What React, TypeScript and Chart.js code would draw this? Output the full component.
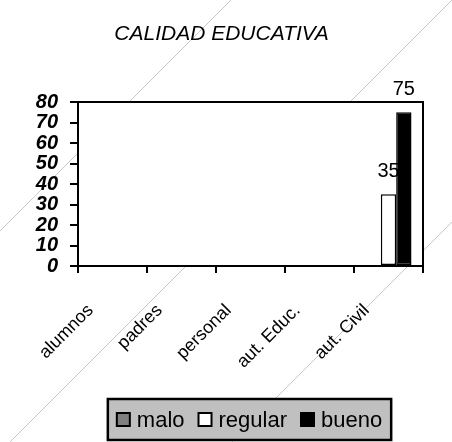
import React, { useEffect, useRef } from 'react';
import { Chart, registerables } from 'chart.js';

Chart.register(...registerables);

const chartTitle = 'CALIDAD EDUCATIVA';
const categories = ['alumnos', 'padres', 'personal', 'aut. Educ.', 'aut. Civil'];
const seriesNames = ['malo', 'regular', 'bueno'];
const maloValues: (number | null)[] = [null, null, null, null, null];
const regularValues: (number | null)[] = [null, null, null, null, 35];
const buenoValues: (number | null)[] = [null, null, null, null, 75];
const yMin = 0;
const yMax = 80;
const yStep = 10;

const FONT = "'Liberation Sans', Arial, sans-serif";
const seriesColors = ['#808080', '#ffffff', '#000000'];

const backgroundPlugin = {
  id: 'bgDecor',
  beforeDraw(chart: any) {
    const { ctx, width, height, chartArea } = chart;
    ctx.save();
    ctx.fillStyle = '#ffffff';
    ctx.fillRect(0, 0, width, height);
    ctx.strokeStyle = '#c8c8c8';
    ctx.lineWidth = 1;
    [231, 452, 674].forEach((s) => {
      ctx.beginPath();
      ctx.moveTo(s, 0);
      ctx.lineTo(s - height, height);
      ctx.stroke();
    });
    ctx.fillStyle = '#ffffff';
    ctx.fillRect(chartArea.left, chartArea.top, chartArea.right - chartArea.left, chartArea.bottom - chartArea.top);
    ctx.restore();
  },
};

const valueLabelPlugin = {
  id: 'valueLabels',
  beforeDatasetsDraw(chart: any) {
    const { ctx } = chart;
    ctx.save();
    ctx.font = `20px ${FONT}`;
    ctx.fillStyle = '#000';
    ctx.textAlign = 'center';
    ctx.textBaseline = 'alphabetic';
    chart.data.datasets.forEach((ds: any, i: number) => {
      const meta = chart.getDatasetMeta(i);
      meta.data.forEach((el: any, j: number) => {
        const v = ds.data[j];
        if (v === null || v === undefined) return;
        ctx.fillText(String(v), el.x, el.y - 17);
      });
    });
    ctx.restore();
  },
};

const frameAndLegendPlugin = {
  id: 'frameLegend',
  afterDraw(chart: any) {
    const { ctx, chartArea, height } = chart;
    ctx.save();
    ctx.strokeStyle = '#000';
    ctx.lineWidth = 2;
    ctx.strokeRect(chartArea.left, chartArea.top, chartArea.right - chartArea.left, chartArea.bottom - chartArea.top);

    // legend
    ctx.font = `22px ${FONT}`;
    const sq = 13;
    const gapSq = 7;
    const gapItem = 14;
    const pad = 9;
    const items = chart.data.datasets.map((ds: any) => ({
      label: ds.label,
      color: ds.backgroundColor,
      w: ctx.measureText(ds.label).width,
    }));
    let content = 0;
    items.forEach((it: any, i: number) => {
      content += sq + gapSq + it.w + (i < items.length - 1 ? gapItem : 0);
    });
    const boxW = content + pad * 2;
    const boxH = 41;
    const cx = (chartArea.left + chartArea.right) / 2 - 1;
    const bx = cx - boxW / 2;
    const by = height - 43;
    ctx.fillStyle = '#c0c0c0';
    ctx.fillRect(bx, by, boxW, boxH);
    ctx.lineWidth = 2.5;
    ctx.strokeStyle = '#000';
    ctx.strokeRect(bx, by, boxW, boxH);
    const cy = by + boxH / 2;
    let x = bx + pad;
    ctx.textBaseline = 'middle';
    ctx.textAlign = 'left';
    items.forEach((it: any) => {
      ctx.fillStyle = it.color;
      ctx.fillRect(x, cy - sq / 2, sq, sq);
      ctx.lineWidth = 2;
      ctx.strokeStyle = '#000';
      ctx.strokeRect(x, cy - sq / 2, sq, sq);
      x += sq + gapSq;
      ctx.fillStyle = '#000';
      ctx.fillText(it.label, x, cy + 1);
      x += it.w + gapItem;
    });
    ctx.restore();
  },
};

export default function App() {
  const ref = useRef<HTMLCanvasElement>(null);
  useEffect(() => {
    document.body.style.margin = '0';
    const values = [maloValues, regularValues, buenoValues];
    const chart = new Chart(ref.current as HTMLCanvasElement, {
      type: 'bar',
      data: {
        labels: categories,
        datasets: seriesNames.map((name, i) => ({
          label: name,
          data: values[i],
          backgroundColor: seriesColors[i],
          borderColor: '#000000',
          borderWidth: 1.5,
          borderSkipped: false,
          categoryPercentage: 0.667,
          barPercentage: 1,
        })),
      },
      options: {
        responsive: false,
        animation: false,
        devicePixelRatio: 1,
        layout: { padding: { left: 20, right: 29, top: 0, bottom: 0 } },
        plugins: {
          legend: { display: false },
          tooltip: { enabled: false },
          title: {
            display: true,
            text: chartTitle,
            color: '#000',
            font: { family: FONT, size: 21, style: 'italic', weight: 'normal' },
            padding: { top: 21.5, bottom: 55.3 },
          },
        },
        scales: {
          x: {
            offset: true,
            grid: { drawOnChartArea: false, drawTicks: true, tickLength: 7, color: '#000', lineWidth: 2, offset: true },
            border: { color: '#000', width: 2 },
            ticks: {
              color: '#000',
              font: { family: FONT, size: 18 },
              minRotation: 45,
              maxRotation: 45,
              autoSkip: false,
              labelOffset: -22,
              padding: 27,
            },
            afterFit(scale: any) {
              scale.height = 176;
            },
          },
          y: {
            min: yMin,
            max: yMax,
            grid: { drawOnChartArea: false, drawTicks: true, tickLength: 8, color: '#000', lineWidth: 2 },
            border: { color: '#000', width: 2 },
            ticks: {
              stepSize: yStep,
              autoSkip: false,
              color: '#000',
              padding: 12,
              font: { family: FONT, size: 20, style: 'italic', weight: 'bold' },
            },
            afterFit(scale: any) {
              scale.width = 58;
            },
          },
        },
      },
      plugins: [backgroundPlugin, valueLabelPlugin, frameAndLegendPlugin],
    });
    return () => chart.destroy();
  }, []);
  return (
    <div style={{ width: 452, height: 442 }}>
      <canvas ref={ref} width={452} height={442} style={{ display: 'block' }} />
    </div>
  );
}
